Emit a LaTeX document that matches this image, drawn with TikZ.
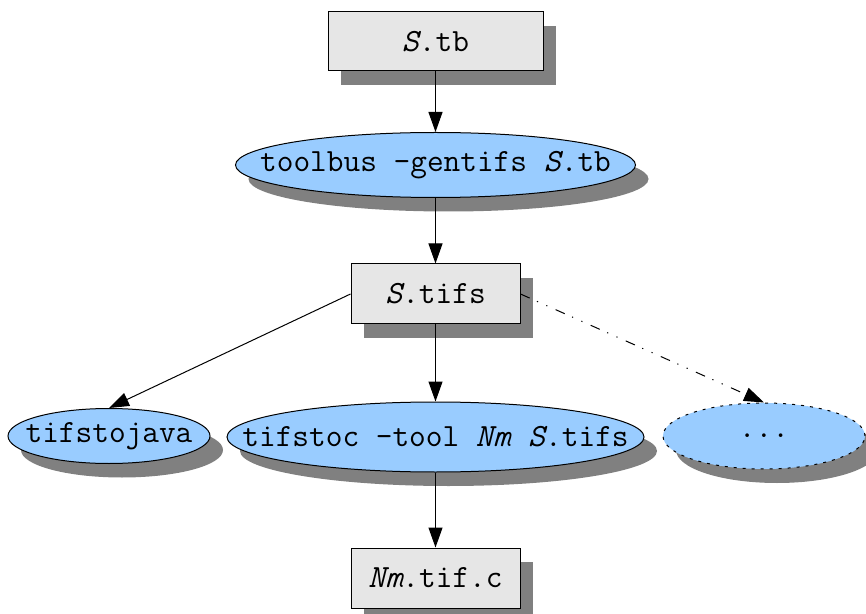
\documentclass[tikz,border=0pt]{standalone}
\usepackage{fontspec}
\usetikzlibrary{shapes.geometric,shadows,arrows.meta}
\definecolor{filegray}{HTML}{E6E6E6}
\definecolor{toolblue}{HTML}{99CCFF}
\definecolor{shadowgray}{HTML}{808080}
\tikzset{
  graphshadow/.style={drop shadow={shadow xshift=6.5pt,shadow yshift=-7pt,fill=shadowgray,opacity=1}},
  file/.style={draw,fill=filegray,rectangle,inner sep=0pt,graphshadow,
    font=\ttfamily\fontsize{16.2}{19}\selectfont},
  tool/.style={draw,fill=toolblue,ellipse,inner sep=0pt,graphshadow,
    font=\ttfamily\fontsize{16.2}{19}\selectfont},
  dashdotdot/.style={dash pattern=on 5pt off 4pt on 0.6pt off 4.5pt on 0.6pt off 4.5pt},
  dotborder/.style={dash pattern=on 1.5pt off 3pt}
}
\begin{document}
\begin{tikzpicture}[x=0.5pt,y=-0.5pt,line width=0.5pt]
      \useasboundingbox (0,0) rectangle (866,614);
      \draw
        (435.5,41.5) node[file,minimum width=107.5pt,minimum height=29.5pt] (tb){\textit{S}.tb}
        (435.5,165) node[tool,minimum width=200pt,minimum height=32.5pt] (gentifs){\makebox[0pt]{toolbus -gentifs \textit{S}.tb}}
        (435.5,294) node[file,minimum width=84.5pt,minimum height=30pt] (tifs){\textit{S}.tifs}
        (109,436) node[tool,minimum width=101pt,minimum height=27.5pt] (java){\makebox[0pt]{tifstojava}}
        (435.5,437) node[tool,minimum width=208.5pt,minimum height=35pt] (toc){\makebox[0pt]{tifstoc -tool \textit{Nm} \textit{S}.tifs}}
        (764,436) node[tool,dotborder,minimum width=101pt,minimum height=33pt] (more){\makebox[0pt]{...}}
        (435.5,578) node[file,minimum width=84.5pt,minimum height=30pt] (tifc){\textit{Nm}.tif.c};
      \begin{scope}[-{Triangle[length=10pt,width=7pt]}]
        \draw (tb) to (gentifs);
        \draw (gentifs) to (tifs);
        \draw (tifs.west) to (java.north);
        \draw (tifs) to (toc);
        \draw[dashdotdot] (tifs.east) to (more.north);
        \draw (toc) to (tifc);
      \end{scope}
    \end{tikzpicture}
\end{document}
